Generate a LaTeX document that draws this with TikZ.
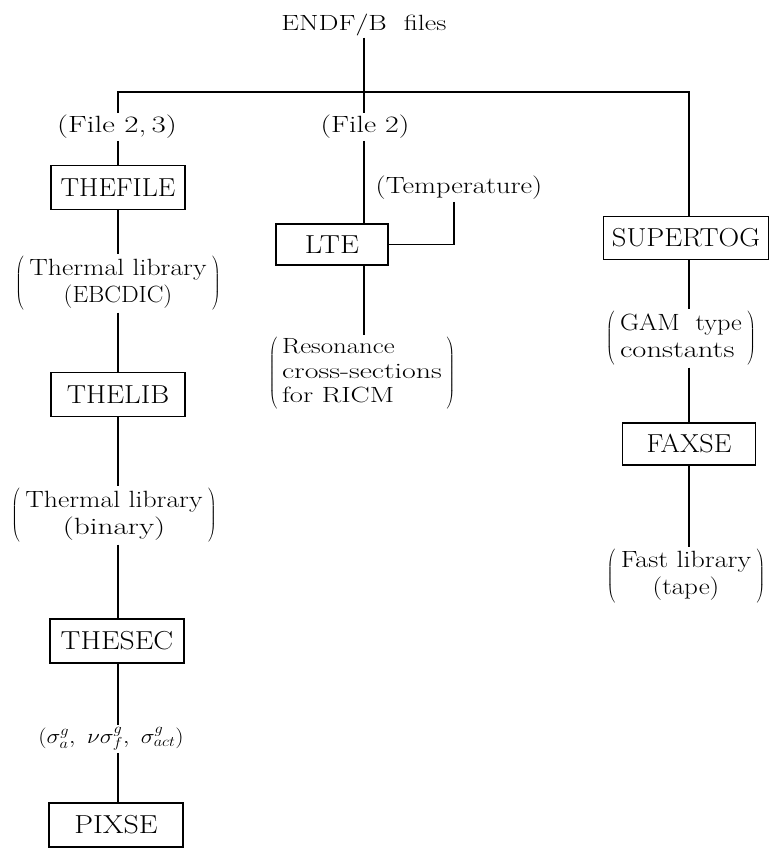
\documentclass[tikz,border=0pt]{standalone}
\usepackage{graphicx}
\newcommand\hs[2]{\scalebox{#1}[1]{#2}}
\newcommand\plab[2]{$\left(\mkern4mu\vcenter{\hbox{\begin{tabular}{@{}#1@{}}#2\end{tabular}}}\mkern4mu\right)$}
\begin{document}
\begin{tikzpicture}[x=1pt,y=-1pt,
  box/.style={draw, line width=1.7pt, inner sep=0pt, minimum width=134pt, minimum height=44pt, font=\fontsize{26}{28}\selectfont},
  lab/.style={inner sep=2pt, font=\fontsize{23.5}{27}\selectfont},
  sml/.style={inner sep=2pt, font=\fontsize{22}{24.5}\selectfont},
  conn/.style={line width=1.7pt}]
\useasboundingbox (0,0) rectangle (772,849);
\node[sml, anchor=base] (endf) at (364,30) {\hs{1.28}{ENDF/B\ \ files}};
\coordinate (jl) at (118,92);
\coordinate (jm) at (364,92);
\coordinate (jr) at (689,92);
\node[lab] (f23) at (117,127) {\hs{1.32}{(File~2,\,3)}};
\node[lab] (f2) at (365,127) {\hs{1.27}{(File~2)}};
\node[lab] (temp) at (459,188) {\hs{1.21}{(Temperature)}};
\node[box] (thefile) at (118,187.5) {\hs{1.07}{THEFILE}};
\node[lab] (ebc) at (118,283.5) {\plab{c}{\hs{1.18}{Thermal library}\\\hs{1.06}{(EBCDIC)}}};
\node[box] (thelib) at (118,394.5) {\hs{1.11}{THELIB}};
\node[lab] (bin) at (114,515.5) {\plab{c}{\hs{1.18}{Thermal library}\\\hs{1.33}{(binary)}}};
\node[box] (thesec) at (117,641) {\hs{1.14}{THESEC}};
\node[sml] (sig) at (111,739) {\hs{1.13}{$(\sigma^g_a,\ \nu\sigma^g_f,\ \sigma^g_{act})$}};
\node[box] (pixse) at (116,825) {\hs{1.15}{PIXSE}};
\node[box, minimum width=112pt, minimum height=41pt] (lte) at (332,244.5) {\hs{1.16}{LTE}};
\node[sml] (res) at (362,373.5) {\plab{l}{\hs{1.22}{Resonance}\\\hs{1.36}{cross-sections}\\\hs{1.3}{for RICM}}};
\node[box, minimum width=165pt, minimum height=43pt] (super) at (686,238) {\hs{1.1}{SUPERTOG}};
\node[lab] (gam) at (681,338.5) {\plab{l}{\hs{1.12}{GAM\ \ type}\\\hs{1.3}{constants}}};
\node[box, minimum width=133pt, minimum height=42pt] (faxse) at (689,444) {\hs{1.08}{FAXSE}};
\node[lab] (fast) at (686,576) {\plab{c}{\hs{1.19}{Fast library}\\\hs{1.15}{(tape)}}};
% connectors
\draw[conn] (endf.south -| jm) -- (f2.north -| jm);
\draw[conn] (f23.north -| jl) -- (jl) -- (jr) -- (super.north -| jr);
\draw[conn] (f23.south -| jl) -- (thefile.north -| jl);
\draw[conn] (thefile.south -| jl) -- (ebc.north -| jl);
\draw[conn] (ebc.south -| jl) -- (thelib.north -| jl);
\draw[conn] (thelib.south -| jl) -- (bin.north -| jl);
\draw[conn] (bin.south -| jl) -- (thesec.north -| jl);
\draw[conn] (thesec.south -| jl) -- (sig.north -| jl);
\draw[conn] (sig.south -| jl) -- (pixse.north -| jl);
\draw[conn] (f2.south -| jm) -- (lte.north -| jm);
\draw[conn] (lte.south -| jm) -- (res.north -| jm);
\draw[conn] ([xshift=-5pt]temp.south) |- (lte.east);
\draw[conn] (super.south -| jr) -- (gam.north -| jr);
\draw[conn] (gam.south -| jr) -- (faxse.north -| jr);
\draw[conn] (faxse.south -| jr) -- (fast.north -| jr);
\end{tikzpicture}
\end{document}
